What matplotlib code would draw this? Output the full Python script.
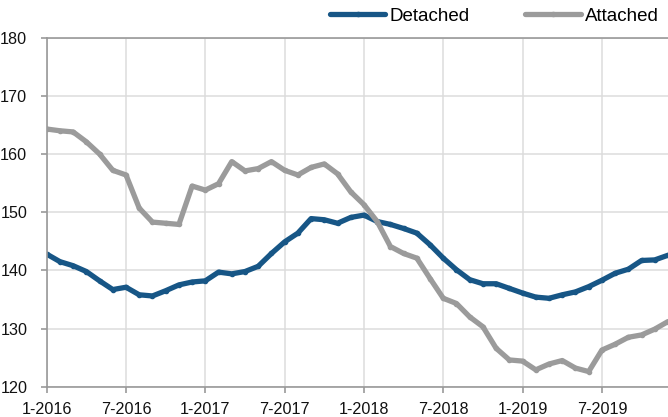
import matplotlib
matplotlib.use("Agg")
import matplotlib.pyplot as plt
import numpy as np

plt.rcParams['font.family'] = ['Liberation Sans', 'DejaVu Sans']

# monthly index values, Jan 2016 .. Dec 2019
detached = [142.8, 141.5, 140.8, 139.8, 138.2, 136.7, 137.1, 135.8, 135.6, 136.5,
            137.5, 138.0, 138.2, 139.7, 139.4, 139.8, 140.7, 142.9, 144.9, 146.4,
            148.9, 148.7, 148.1, 149.1, 149.5, 148.4, 147.9, 147.2, 146.4, 144.4,
            142.1, 140.1, 138.4, 137.7, 137.7, 136.9, 136.1, 135.4, 135.2, 135.8,
            136.3, 137.2, 138.3, 139.5, 140.2, 141.7, 141.8, 142.6]
attached = [164.3, 164.0, 163.8, 162.1, 160.0, 157.2, 156.4, 150.7, 148.3, 148.1,
            147.9, 154.5, 153.8, 154.9, 158.7, 157.1, 157.5, 158.7, 157.2, 156.4,
            157.7, 158.3, 156.6, 153.5, 151.3, 148.4, 144.1, 142.9, 142.1, 138.6,
            135.2, 134.3, 132.0, 130.3, 126.6, 124.6, 124.4, 122.9, 123.9, 124.5,
            123.2, 122.6, 126.3, 127.3, 128.5, 128.9, 129.9, 131.2]
tick_labels = ['1-2016', '7-2016', '1-2017', '7-2017', '1-2018', '7-2018', '1-2019', '7-2019']

months = np.arange(len(detached))
blue = '#175686'
grey = '#9b9b9b'

fig = plt.figure(figsize=(6.68, 4.17), dpi=100)
ax = fig.add_axes([46.7 / 668, 1 - 386.7 / 417, 1 - 46.7 / 668, (386.7 - 37.7) / 417])

ax.plot(months, detached, color=blue, lw=3.8, marker='o', ms=3, label='Detached',
        solid_joinstyle='round', solid_capstyle='round', clip_on=True)
ax.plot(months, attached, color=grey, lw=3.8, marker='o', ms=3, label='Attached',
        solid_joinstyle='round', solid_capstyle='round', clip_on=True)

ax.set_xlim(0, 47)
ax.set_ylim(120, 180)
ax.set_xticks(np.arange(0, 48, 6))
ax.set_xticklabels(tick_labels)
ax.set_yticks(np.arange(120, 181, 10))

ax.grid(True, color='#dcdcdc', lw=1.1)
ax.set_axisbelow(True)
for s in ['left', 'bottom', 'top']:
    ax.spines[s].set_color('#999999')
    ax.spines[s].set_linewidth(1.2)
ax.spines['right'].set_visible(False)
ax.tick_params(axis='both', colors='#999999', labelcolor='#111111', length=4,
               width=1.2, labelsize=11.6)
ax.tick_params(axis='y', pad=10)
ax.tick_params(axis='x', pad=7)

fig.legend(loc='center left', bbox_to_anchor=(330 / 668, 1 - 16 / 417), ncol=2,
           frameon=False, fontsize=13.5, handlelength=2.95, handletextpad=0.2,
           columnspacing=3.0, borderpad=0, borderaxespad=0)

fig.savefig('out.png', dpi=100)
